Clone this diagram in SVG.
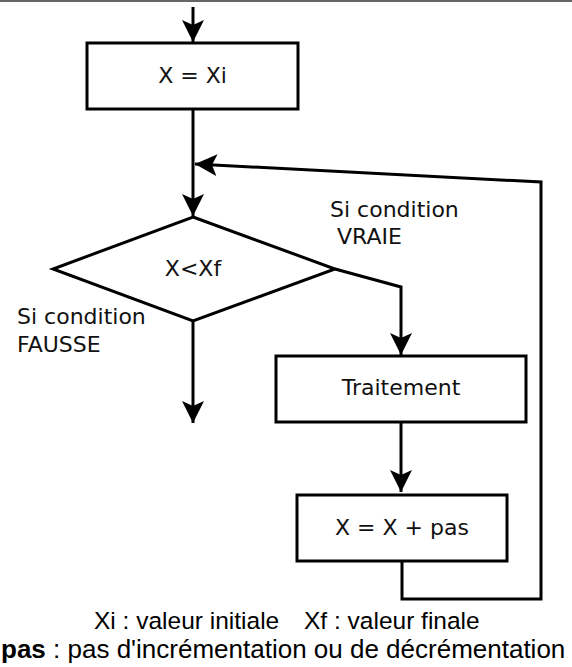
<svg xmlns="http://www.w3.org/2000/svg" width="572" height="667" viewBox="0 0 572 667">
  <style>
    .box { fill: #ffffff; stroke: #000000; stroke-width: 3; }
    .wire { fill: none; stroke: #000000; stroke-width: 3; }
    .lbl { font-family: "DejaVu Sans", sans-serif; font-size: 22px; fill: #111111; }
    .mid { text-anchor: middle; }
    .note { font-family: "Liberation Sans", Arial, sans-serif; fill: #000000; }
  </style>
  <defs>
    <marker id="arrow" viewBox="0 0 22 22" refX="22" refY="11" markerWidth="22" markerHeight="22" markerUnits="userSpaceOnUse" orient="auto">
      <path d="M0,0 L22,11 L0,22 L5,11 Z" fill="#000000"/>
    </marker>
  </defs>

  <rect x="0" y="0" width="572" height="667" fill="#ffffff"/>
  <line x1="0" y1="1" x2="572" y2="1" stroke="#666666" stroke-width="2"/>

  <g id="connectors">
    <line class="wire" x1="193" y1="7" x2="193" y2="42" marker-end="url(#arrow)"/>
    <line class="wire" x1="193" y1="109" x2="193" y2="216" marker-end="url(#arrow)"/>
    <polyline class="wire" points="335,269 401,287 401,355" marker-end="url(#arrow)"/>
    <line class="wire" x1="401" y1="422" x2="401" y2="492" marker-end="url(#arrow)"/>
    <line class="wire" x1="193" y1="321" x2="193" y2="423" marker-end="url(#arrow)"/>
    <polyline class="wire" points="402,561 402,599 541,599 541,182 195,164" marker-end="url(#arrow)"/>
  </g>

  <g id="init">
    <rect class="box" x="87" y="43" width="211" height="66"/>
    <text class="lbl mid" x="192.5" y="83">X = Xi</text>
  </g>

  <g id="test">
    <polygon class="box" points="193,217 335,269 193,321 53,269"/>
    <text class="lbl mid" x="193" y="276">X&lt;Xf</text>
  </g>

  <g id="label-true">
    <text class="lbl" x="330" y="217">Si condition</text>
    <text class="lbl" x="337" y="244">VRAIE</text>
  </g>

  <g id="label-false">
    <text class="lbl" x="17" y="324">Si condition</text>
    <text class="lbl" x="17" y="352">FAUSSE</text>
  </g>

  <g id="process">
    <rect class="box" x="276" y="356" width="250" height="66"/>
    <text class="lbl mid" x="401" y="395">Traitement</text>
  </g>

  <g id="step">
    <rect class="box" x="297" y="495" width="210" height="66"/>
    <text class="lbl mid" x="402" y="535">X = X + pas</text>
  </g>

  <g id="legend">
    <text class="note" font-size="24.5" y="629"><tspan x="94">Xi : valeur initiale</tspan><tspan x="304">Xf : valeur finale</tspan></text>
    <text class="note" font-size="26" x="1" y="658"><tspan font-weight="bold">pas</tspan> : pas d'incrémentation ou de décrémentation</text>
  </g>
</svg>
